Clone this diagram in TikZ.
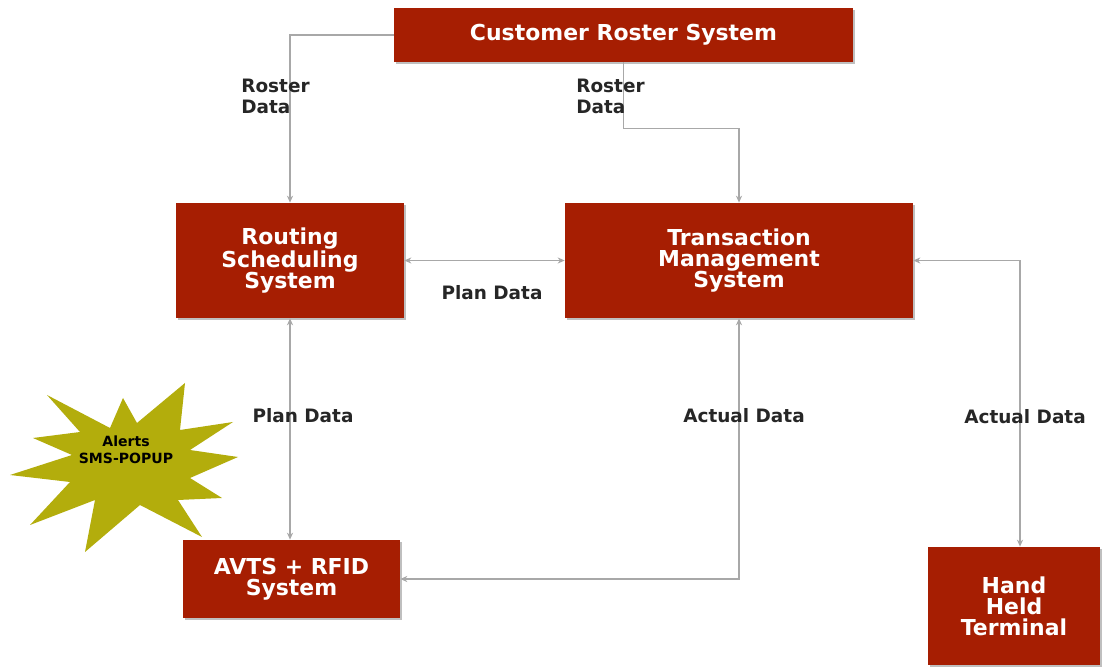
\documentclass[tikz,border=0pt]{standalone}
\usepackage{fontspec}
\setmainfont{DejaVu Sans}
\usetikzlibrary{arrows.meta,shadows}
\definecolor{boxred}{HTML}{A61E02}
\definecolor{linegray}{HTML}{A8A8A8}
\definecolor{burst}{HTML}{B3AD0C}
\begin{document}
\begin{tikzpicture}[x=0.02cm,y=-0.02cm,
  sysbox/.style={fill=boxred, draw=none, text=white, align=center,
    font=\fontsize{12.5}{12}\selectfont\bfseries, inner sep=0pt,
    drop shadow={shadow xshift=1.2pt, shadow yshift=-1.2pt, opacity=0.5}},
  conn/.style={draw=linegray, line width=0.9pt,
    arrows={-{Stealth[length=4pt,width=3.5pt]}}},
  bconn/.style={conn, arrows={{Stealth[length=4pt,width=3.5pt]}-{Stealth[length=4pt,width=3.5pt]}}},
  lbl/.style={font=\fontsize{10.5}{12}\selectfont\bfseries, text=black!85, inner sep=0pt}
]
\useasboundingbox (0,0) rectangle (1102,668);

% starburst
\fill[burst] (123,398) -- (137,423) -- (185,383) -- (180,430) -- (233,422)
  -- (190,450) -- (238,457) -- (190,478) -- (222,498) -- (178,500)
  -- (202,537) -- (140,505) -- (85,552) -- (95,500) -- (30,525)
  -- (70,482) -- (10,475) -- (72,455) -- (33,438) -- (80,432)
  -- (47,395) -- (110,428) -- cycle;
\node[font=\fontsize{8}{9.5}\selectfont\bfseries, align=center, inner sep=0pt] (alert) at (126,450) {Alerts\\SMS-POPUP};

% boxes
\node[sysbox, minimum width=9.18cm, minimum height=1.08cm] (crs) at (623.5,35) {Customer Roster System};
\node[sysbox, minimum width=4.56cm, minimum height=2.30cm] (rss) at (290,260.5) {Routing\\Scheduling\\System};
\node[sysbox, minimum width=6.96cm, minimum height=2.30cm] (tms) at (739,260.5) {Transaction\\Management\\System};
\node[sysbox, minimum width=4.34cm, minimum height=1.56cm] (avts) at (291.5,579) {AVTS + RFID\\System};
\node[sysbox, minimum width=3.44cm, minimum height=2.36cm] (hht) at (1014,606) {Hand\\Held\\Terminal};

% connectors
\draw[conn] (crs.west) -| (rss.north);
\draw[conn] (crs.south) -- ++(0,66) -| (tms.north);
\draw[bconn] (rss.east) -- (tms.west);
\draw[bconn] (rss.south) -- (rss.south |- avts.north);
\draw[bconn] (tms.south) |- (avts.east);
\draw[bconn] (tms.east) -| ([xshift=0.12cm]hht.north);

% labels
\node[lbl, align=left, anchor=west] (l1) at (241,96) {Roster\\Data};
\node[lbl, align=left, anchor=west] (l2) at (576,96) {Roster\\Data};
\node[lbl] (l3) at (492,293) {Plan Data};
\node[lbl] (l4) at (303,416) {Plan Data};
\node[lbl] (l5) at (744,416) {Actual Data};
\node[lbl] (l6) at (1025,417) {Actual Data};
\end{tikzpicture}
\end{document}
